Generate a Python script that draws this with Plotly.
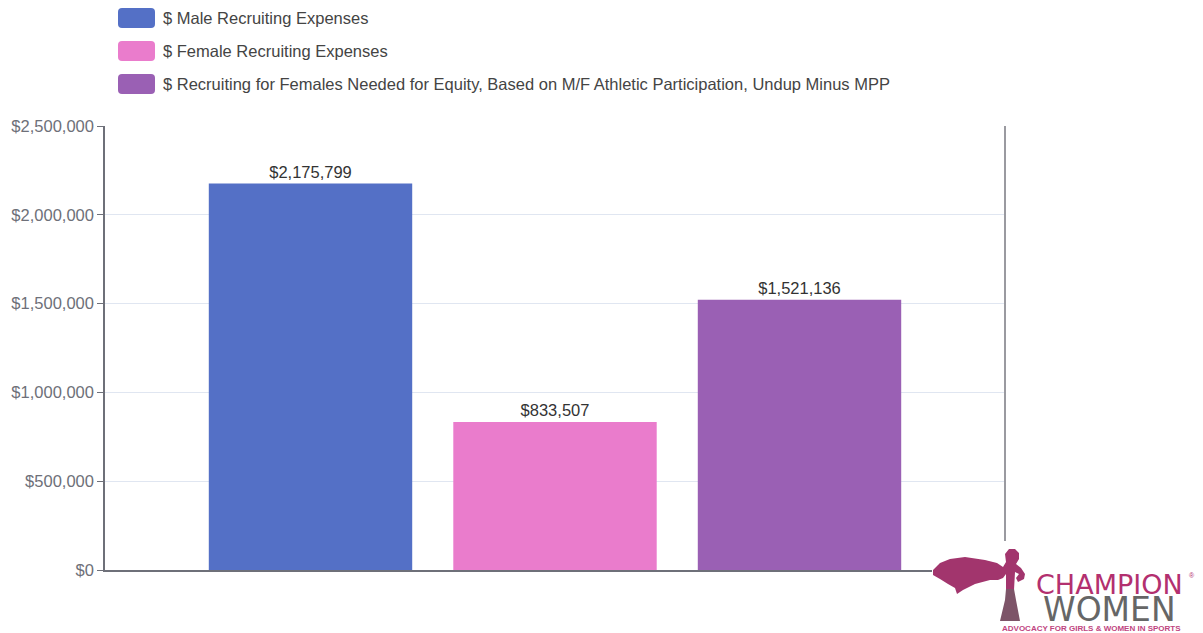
import plotly.graph_objects as go

series_names = [
    "$ Male Recruiting Expenses",
    "$ Female Recruiting Expenses",
    "$ Recruiting for Females Needed for Equity, Based on M/F Athletic Participation, Undup Minus MPP",
]
series_values = [2175799, 833507, 1521136]
series_colors = ["#5470c6", "#ea7ccc", "#9a60b4"]
category = [""]
tick_values = [0, 500000, 1000000, 1500000, 2000000, 2500000]
tick_labels = ["$0", "$500,000", "$1,000,000", "$1,500,000", "$2,000,000", "$2,500,000"]

OFF = 8  # page body margin
W, H = 1203 - OFF, 633 - OFF
L, R, T, B = 105, 1005, 126, 570  # plot area in page pixels
FONT = "Liberation Sans, Arial, sans-serif"
LOGO_FONT = "DejaVu Sans, Verdana, sans-serif"


def px(x):
    return (x - L) / (R - L)


def py(y):
    return (B - y) / (B - T)


fig = go.Figure()
for name, val, col in zip(series_names, series_values, series_colors):
    fig.add_trace(go.Bar(
        x=category, y=[val], name=name, marker_color=col, marker_line_width=0,
        text=[f"${val:,}"], textposition="outside", cliponaxis=False,
        textfont=dict(family=FONT, size=16.5, color="#333333"),
        showlegend=False,
    ))

shapes = []
annotations = []
# custom legend
for i, (name, col) in enumerate(zip(series_names, series_colors)):
    cy = 18 + 33 * i
    x0, x1, y0, y1, r = 118, 155, cy - 10, cy + 10, 4
    path = (f"M {px(x0 + r)} {py(y0)} L {px(x1 - r)} {py(y0)} Q {px(x1)} {py(y0)} {px(x1)} {py(y0 + r)} "
            f"L {px(x1)} {py(y1 - r)} Q {px(x1)} {py(y1)} {px(x1 - r)} {py(y1)} "
            f"L {px(x0 + r)} {py(y1)} Q {px(x0)} {py(y1)} {px(x0)} {py(y1 - r)} "
            f"L {px(x0)} {py(y0 + r)} Q {px(x0)} {py(y0)} {px(x0 + r)} {py(y0)} Z")
    shapes.append(dict(type="path", xref="paper", yref="paper", path=path,
                       fillcolor=col, line=dict(width=0)))
    annotations.append(dict(xref="paper", yref="paper", x=px(161), y=py(cy), text=name,
                            showarrow=False, xanchor="left", yanchor="middle",
                            font=dict(family=FONT, size=16.5, color="#444444")))

# right border line
shapes.append(dict(type="line", xref="paper", yref="paper", x0=1, x1=1, y0=0, y1=1,
                   line=dict(color="#9a9aa0", width=2), layer="above"))

# logo background
shapes.append(dict(type="rect", xref="paper", yref="paper", x0=px(932), x1=px(1203),
                   y0=py(633), y1=py(541), fillcolor="white", line=dict(width=0), layer="above"))


def poly(pts):
    return "M " + " L ".join(f"{px(x)} {py(y)}" for x, y in pts) + " Z"


upper = [(933, 570), (940, 563), (950, 559), (965, 557), (985, 560), (997, 563), (1003, 567),
         (1006, 562), (1005, 554), (1009, 549), (1015, 549), (1019, 553), (1019, 559),
         (1016, 564), (1021, 568), (1025, 574), (1024, 579), (1018, 582), (1016, 578),
         (1019, 574), (1015, 572), (1014, 590), (1006, 590), (1006, 574), (1003, 578),
         (998, 580), (990, 580), (975, 584), (963, 590), (957, 594), (955, 588),
         (948, 584), (940, 579), (933, 575)]
lower = [(1006, 589), (1014, 589), (1016, 600), (1020, 621), (1000, 621), (1005, 600)]
shapes.append(dict(type="path", xref="paper", yref="paper", path=poly(upper),
                   fillcolor="#a2356d", line=dict(width=0), layer="above"))
shapes.append(dict(type="path", xref="paper", yref="paper", path=poly(lower),
                   fillcolor="#7d5468", line=dict(width=0), layer="above"))
annotations += [
    dict(xref="paper", yref="paper", x=px(1109), y=py(584), text="CHAMPION", showarrow=False,
         xanchor="center", yanchor="middle", font=dict(family=LOGO_FONT, size=27, color="#b3306f")),
    dict(xref="paper", yref="paper", x=px(1192), y=py(575), text="®", showarrow=False,
         xanchor="center", yanchor="middle", font=dict(family=FONT, size=7, color="#b3306f")),
    dict(xref="paper", yref="paper", x=px(1109), y=py(609), text="WOMEN", showarrow=False,
         xanchor="center", yanchor="middle", font=dict(family=LOGO_FONT, size=33, color="#666666")),
    dict(xref="paper", yref="paper", x=px(1091), y=py(628), text="<b>ADVOCACY FOR GIRLS & WOMEN IN SPORTS</b>",
         showarrow=False, xanchor="center", yanchor="middle",
         font=dict(family=FONT, size=8, color="#c0457f")),
]

fig.update_layout(
    width=W, height=H,
    margin=dict(l=L - OFF, r=W - (R - OFF), t=T - OFF, b=H - (B - OFF), pad=0, autoexpand=False),
    paper_bgcolor="white", plot_bgcolor="white",
    barmode="group", bargap=0.185, bargroupgap=0.168,
    shapes=shapes, annotations=annotations,
    font=dict(family=FONT),
)
fig.update_xaxes(showticklabels=False, showgrid=False, showline=True, linecolor="#6E7079",
                 linewidth=1.5, ticks="", zeroline=False, fixedrange=True, automargin=False)
fig.update_yaxes(range=[0, 2500000], tickvals=tick_values, ticktext=tick_labels,
                 showgrid=True, gridcolor="#E0E6F1", gridwidth=1, zeroline=False,
                 showline=True, linecolor="#6E7079", linewidth=1.5,
                 ticks="outside", ticklen=6, tickcolor="#6E7079", automargin=False,
                 tickfont=dict(family=FONT, size=16.5, color="#6E7079"), fixedrange=True)

fig.write_html("out.html")
